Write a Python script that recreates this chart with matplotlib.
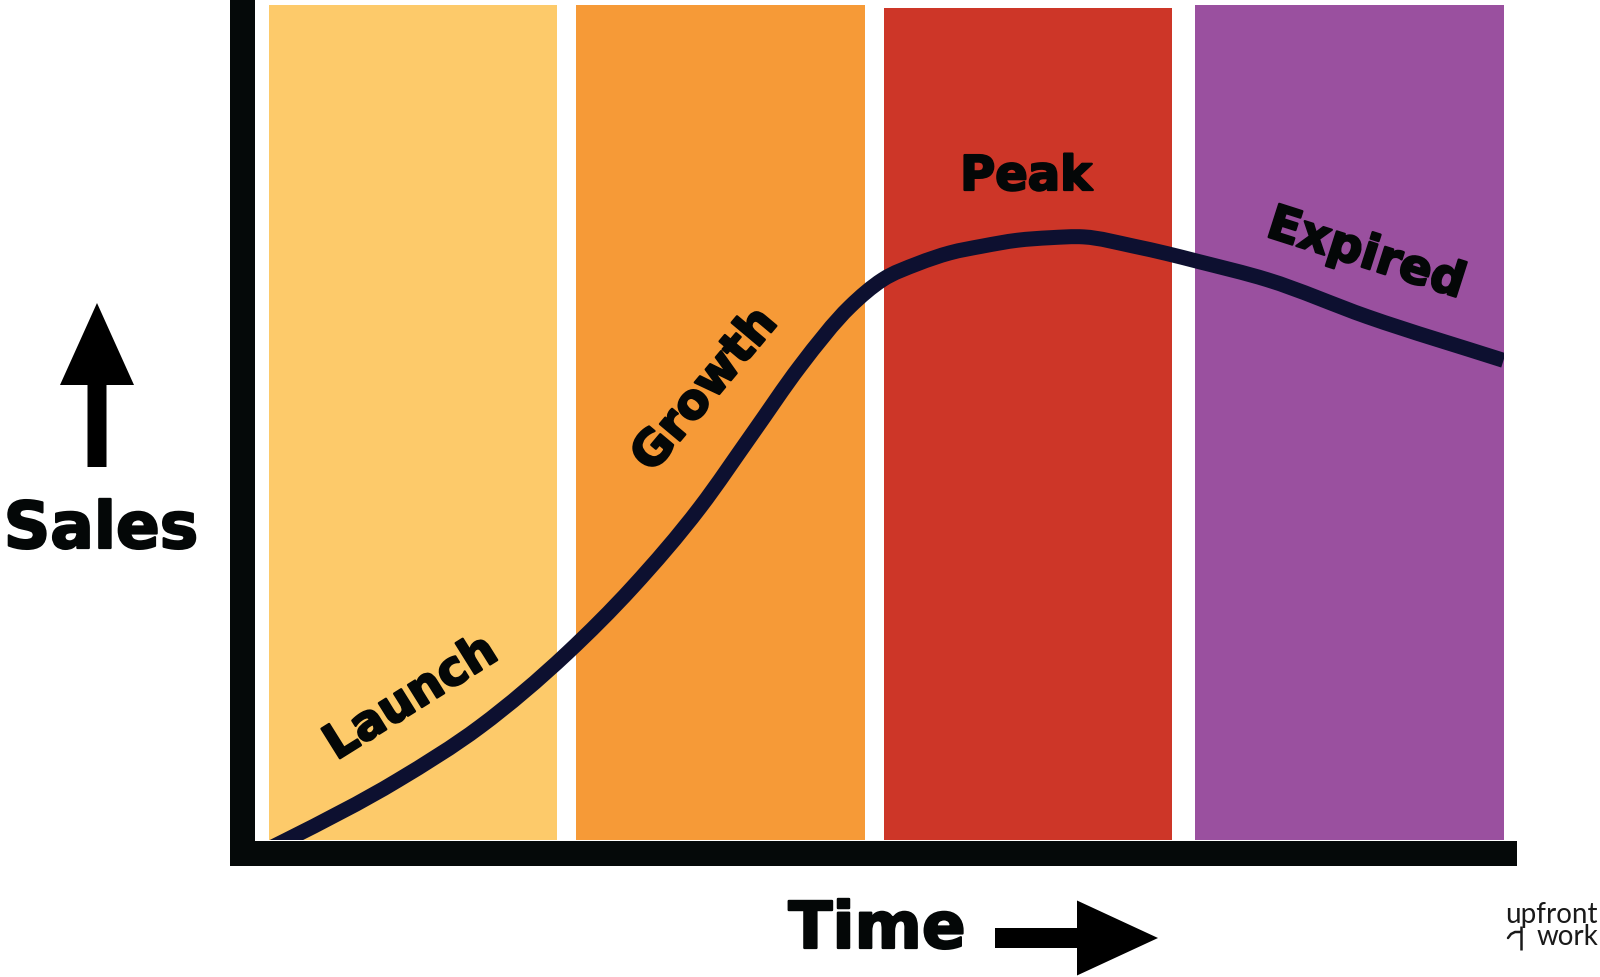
import matplotlib
matplotlib.use('Agg')
import numpy as np
import matplotlib.pyplot as plt
import matplotlib.patheffects as pe
from matplotlib import font_manager as fm
from matplotlib.patches import FancyArrow, PathPatch
from matplotlib.path import Path

# ---------------- data ----------------
phases = ['Launch', 'Growth', 'Peak', 'Expired']
phase_start = [1.2, 25.8, 50.4, 75.3]
phase_end = [24.25, 48.9, 73.5, 100.0]
phase_top = [99.4, 99.4, 99.1, 99.4]
phase_colors = ['#FDCA6A', '#F69A37', '#CD3628', '#9A509F']

time = [0.3, 2.6, 11.5, 18.1, 25.1, 30.3, 35.7, 39.9, 43.7, 47.7, 50.3, 53.1,
        55.7, 58.3, 61.1, 63.7, 66.4, 70.4, 73.1, 75.5, 81.1, 89.1, 100.0]
sales = [-1.7, 0.0, 7.1, 13.5, 22.3, 30.1, 39.6, 48.4, 56.4, 63.5, 66.7, 68.6,
         69.9, 70.7, 71.4, 71.7, 71.8, 70.7, 69.8, 68.9, 66.7, 62.3, 57.1]

x_label = 'Time'
y_label = 'Sales'
logo_text = 'upfront\nwork'

HEAVY = fm.findfont(fm.FontProperties(family='DejaVu Sans', weight='bold'))


def fp(size, fname=HEAVY):
    p = fm.FontProperties(fname=fname)
    p.set_size(size)
    return p


fig = plt.figure(figsize=(16, 9.77), dpi=100)
fig.patch.set_facecolor('white')

# main chart axes
ax = fig.add_axes([254 / 1600, (977 - 840) / 977, (1503.5 - 254) / 1600, 840 / 977])
ax.set_xlim(0, 100)
ax.set_ylim(0, 100)
ax.patch.set_alpha(0)

widths = [e - s for s, e in zip(phase_start, phase_end)]
ax.bar(phase_start, phase_top, width=widths, align='edge', color=phase_colors,
       linewidth=0, zorder=1)

# smooth rendering of the read points: cubic Hermite segments drawn as Beziers
x = np.asarray(time, float)
y = np.asarray(sales, float)
h = np.diff(x)
d = np.diff(y) / h
m = np.empty_like(x)
m[0], m[-1] = d[0], d[-1]
m[1:-1] = (h[1:] * d[:-1] + h[:-1] * d[1:]) / (h[:-1] + h[1:])
verts = [(x[0], y[0])]
codes = [Path.MOVETO]
for i in range(len(x) - 1):
    dx = h[i] / 3.0
    verts += [(x[i] + dx, y[i] + m[i] * dx), (x[i + 1] - dx, y[i + 1] - m[i + 1] * dx),
              (x[i + 1], y[i + 1])]
    codes += [Path.CURVE4] * 3
ax.add_patch(PathPatch(Path(verts, codes), fill=False, edgecolor='#0D1030',
                       lw=10.8, capstyle='butt', joinstyle='round', zorder=2))

ax.set_xticks([])
ax.set_yticks([])
for side in ['top', 'right']:
    ax.spines[side].set_visible(False)
for side in ['left', 'bottom']:
    sp = ax.spines[side]
    sp.set_linewidth(18)
    sp.set_color('#050909')
    sp.set_position(('outward', 9))
    sp.set_capstyle('projecting')
    sp.set_zorder(3)
ax.spines['left'].set_bounds(-12.5 / 8.4, 105)
ax.spines['bottom'].set_bounds(-12.5 / 12.495, 100)

# overlay for labels and arrows (pixel coordinates)
ov = fig.add_axes([0, 0, 1, 1], zorder=5)
ov.set_xlim(0, 1600)
ov.set_ylim(977, 0)
ov.axis('off')

txt = '#040707'
bold = [pe.withStroke(linewidth=1.6, foreground=txt)]
ov.add_patch(FancyArrow(97, 467, 0, -164, width=19, head_width=74, head_length=82,
                        length_includes_head=True, color='black', lw=0))
ov.add_patch(FancyArrow(995, 938, 163, 0, width=20, head_width=75, head_length=81,
                        length_includes_head=True, color='black', lw=0))

ov.text(101, 548, y_label, ha='center', va='baseline', color=txt, fontproperties=fp(46.5),
        path_effects=bold)
ov.text(877, 948, x_label, ha='center', va='baseline', color=txt, fontproperties=fp(46.5),
        path_effects=bold)

label_pos = {'Launch': (411, 698, 32, 'center'), 'Growth': (705, 390, 50, 'center'),
             'Peak': (1026, 190, 0, 'baseline'), 'Expired': (1366, 254, -17.7, 'center')}
for name in phases:
    lx, ly, r, va = label_pos[name]
    ov.text(lx, ly, name, ha='center', va=va, rotation=r, rotation_mode='anchor',
            color=txt, fontproperties=fp(34.5), path_effects=bold)

# logo
ov.text(1598, 902, logo_text, ha='right', va='top', multialignment='right',
        linespacing=0.8, color='#1a1a1a', family='Lato', fontsize=20)
ov.plot([1508, 1511, 1515, 1521], [938, 934, 932, 932], color='#1a1a1a', lw=1.8,
        solid_capstyle='round')
ov.plot([1521, 1521], [926, 950], color='#1a1a1a', lw=1.8, solid_capstyle='butt')

fig.savefig('out.png', dpi=100, facecolor='white')
